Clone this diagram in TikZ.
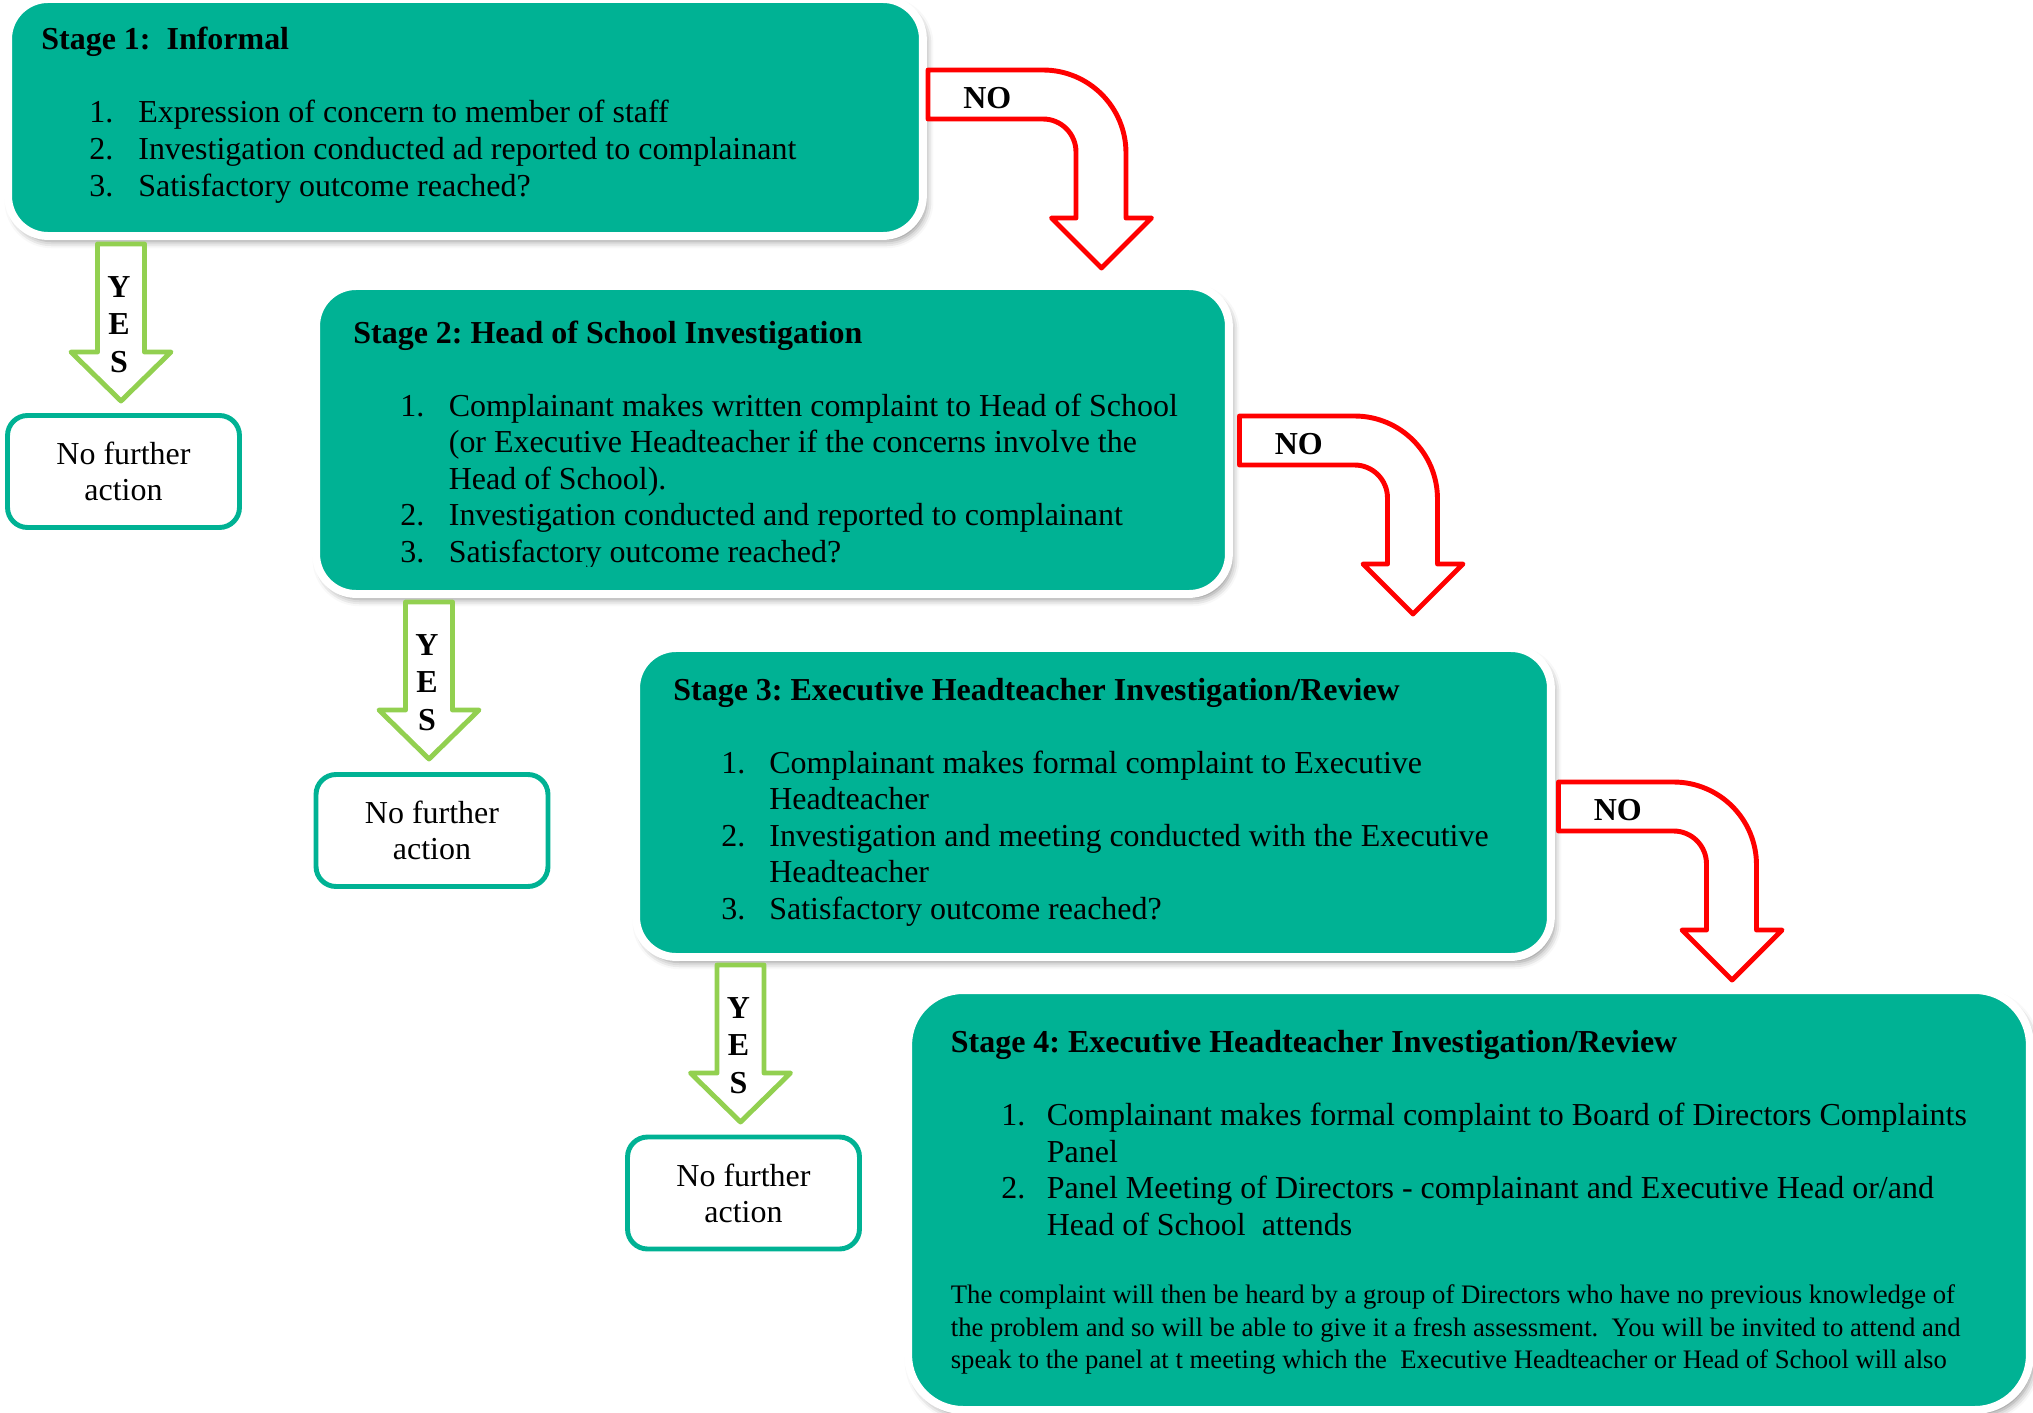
\documentclass[tikz,border=0pt]{standalone}
\usepackage{fontspec}
\setmainfont{Liberation Serif}
\usetikzlibrary{shadows.blur}
\frenchspacing
\definecolor{tealbox}{RGB}{0,178,148}
\definecolor{nored}{RGB}{255,0,0}
\definecolor{yesgreen}{RGB}{146,208,80}
\tikzset{
  stagebox/.style={rectangle, fill=tealbox, draw=white, line width=4.5pt, inner sep=0pt,
    blur shadow={shadow xshift=2pt, shadow yshift=-3pt, shadow blur radius=4pt, shadow opacity=45}},
  txt/.style={inner sep=0pt, anchor=base west, font=\fontsize{18.2}{21}\selectfont},
  ttl/.style={inner sep=0pt, anchor=base west, font=\fontsize{18.2}{21}\selectfont\bfseries},
  smalltxt/.style={inner sep=0pt, anchor=base west, font=\fontsize{15.2}{18}\selectfont},
  nobox/.style={rectangle, rounded corners=0.4cm, draw=tealbox, line width=2.8pt, fill=white,
    minimum width=4.64cm, minimum height=2.24cm, align=center, inner sep=0pt,
    font=\fontsize{18.2}{20.4}\selectfont},
  noarrow/.style={draw=nored, fill=white, line width=2.8pt, line join=round},
  yesarrow/.style={draw=yesgreen, fill=white, line width=2.8pt, line join=round},
  lbl/.style={inner sep=0pt, anchor=base, font=\fontsize{18.2}{21}\selectfont\bfseries},
}
\newcommand\noarrowshape[3]{%
  \begin{scope}[shift={(#1,#2)}]
    \draw[noarrow] (0,0) -- (115,0) .. controls (160.84,0) and (198,37.16) .. (198,83)
      -- (198,148) -- (223.5,148) -- (173.5,198) -- (123.5,148) -- (148,148) -- (148,82)
      .. controls (148,63.77) and (133.23,49) .. (115,49) -- (0,49) -- cycle;
    \node[lbl, anchor=base west] (#3) at (35,38) {NO};
  \end{scope}}
\newcommand\yesarrowshape[3]{%
  \begin{scope}[shift={(#1,#2)}]
    \draw[yesarrow] (-23.5,0) -- (23.5,0) -- (23.5,108) -- (50,108) -- (0,157) -- (-50,108) -- (-23.5,108) -- cycle;
    \node[lbl] (#3y) at (-2,53) {Y};
    \node[lbl] (#3e) at (-2,90) {E};
    \node[lbl] (#3s) at (-2,128) {S};
  \end{scope}}
\begin{document}
\begin{tikzpicture}[x=0.02cm, y=-0.02cm]
\useasboundingbox (0,0) rectangle (2033,1413);

% Stage boxes
\node[stagebox, rounded corners=0.8cm, minimum width=18.3cm, minimum height=4.74cm] (s1) at (465.5,117.5) {};
\node[stagebox, rounded corners=0.8cm, minimum width=18.26cm, minimum height=6.16cm] (s2) at (772.5,440) {};
\node[stagebox, rounded corners=0.8cm, minimum width=18.3cm, minimum height=6.18cm] (s3) at (1093.5,802.5) {};
\node[stagebox, rounded corners=1.1cm, minimum width=22.44cm, minimum height=8.4cm] (s4) at (1469,1200) {};

% Stage 1 text
\node[ttl] (s1t) at (41,50) {Stage 1:\ \ Informal};
\node[txt] (s1n1) at (89,122.7) {1.};
\node[txt] (s1i1) at (138,122.7) {Expression of concern to member of staff};
\node[txt] (s1n2) at (89,159.3) {2.};
\node[txt] (s1i2) at (138,159.3) {Investigation conducted ad reported to complainant};
\node[txt] (s1n3) at (89,196) {3.};
\node[txt] (s1i3) at (138,196) {Satisfactory outcome reached?};

% Stage 2 text
\node[ttl] (s2t) at (353,343) {Stage 2: Head of School Investigation};
\node[txt] (s2n1) at (400,416) {1.};
\node[txt] (s2i1a) at (448.5,416) {Complainant makes written complaint to Head of School};
\node[txt] (s2i1b) at (448.5,452.5) {(or Executive Headteacher if the concerns involve the};
\node[txt] (s2i1c) at (448.5,489) {Head of School).};
\node[txt] (s2n2) at (400,525.5) {2.};
\node[txt] (s2i2) at (448.5,525.5) {Investigation conducted and reported to complainant};
\begin{scope}
  \clip (330,500) rectangle (1220,566);
  \node[txt] (s2n3) at (400,562) {3.};
  \node[txt] (s2i3) at (448.5,562) {Satisfactory outcome reached?};
\end{scope}

% Stage 3 text
\node[ttl] (s3t) at (673,700) {Stage 3: Executive Headteacher Investigation/Review};
\node[txt] (s3n1) at (721,773) {1.};
\node[txt] (s3i1a) at (769,773) {Complainant makes formal complaint to Executive};
\node[txt] (s3i1b) at (769,809.6) {Headteacher};
\node[txt] (s3n2) at (721,846) {2.};
\node[txt] (s3i2a) at (769,846) {Investigation and meeting conducted with the Executive};
\node[txt] (s3i2b) at (769,882.8) {Headteacher};
\node[txt] (s3n3) at (721,919.4) {3.};
\node[txt] (s3i3) at (769,919.4) {Satisfactory outcome reached?};

% Stage 4 text
\node[ttl] (s4t) at (950.5,1052.5) {Stage 4: Executive Headteacher Investigation/Review};
\node[txt] (s4n1) at (1001,1125.7) {1.};
\node[txt] (s4i1a) at (1046.5,1125.7) {Complainant makes formal complaint to Board of Directors Complaints};
\node[txt] (s4i1b) at (1046.5,1162) {Panel};
\node[txt] (s4n2) at (1001,1198.5) {2.};
\node[txt] (s4i2a) at (1046.5,1198.5) {Panel Meeting of Directors - complainant and Executive Head or/and};
\node[txt] (s4i2b) at (1046.5,1235) {Head of School\ \ attends};
\node[smalltxt] (s4p1) at (950.5,1303) {The complaint will then be heard by a group of Directors who have no previous knowledge of};
\node[smalltxt] (s4p2) at (950.5,1336) {the problem and so will be able to give it a fresh assessment.\ \ You will be invited to attend and};
\node[smalltxt] (s4p3) at (950.5,1368) {speak to the panel at t meeting which the\ \ Executive Headteacher or Head of School will also};

% NO arrows
\noarrowshape{928}{70}{no1}
\noarrowshape{1239.5}{416}{no2}
\noarrowshape{1558.5}{782}{no3}

% YES arrows
\yesarrowshape{121}{244}{yes1}
\yesarrowshape{429}{602}{yes2}
\yesarrowshape{740.5}{965}{yes3}

% No further action boxes
\node[nobox] (nfa1) at (123.5,471.5) {No further\\action};
\node[nobox] (nfa2) at (432,830.5) {No further\\action};
\node[nobox] (nfa3) at (743.5,1193) {No further\\action};
\end{tikzpicture}
\end{document}
